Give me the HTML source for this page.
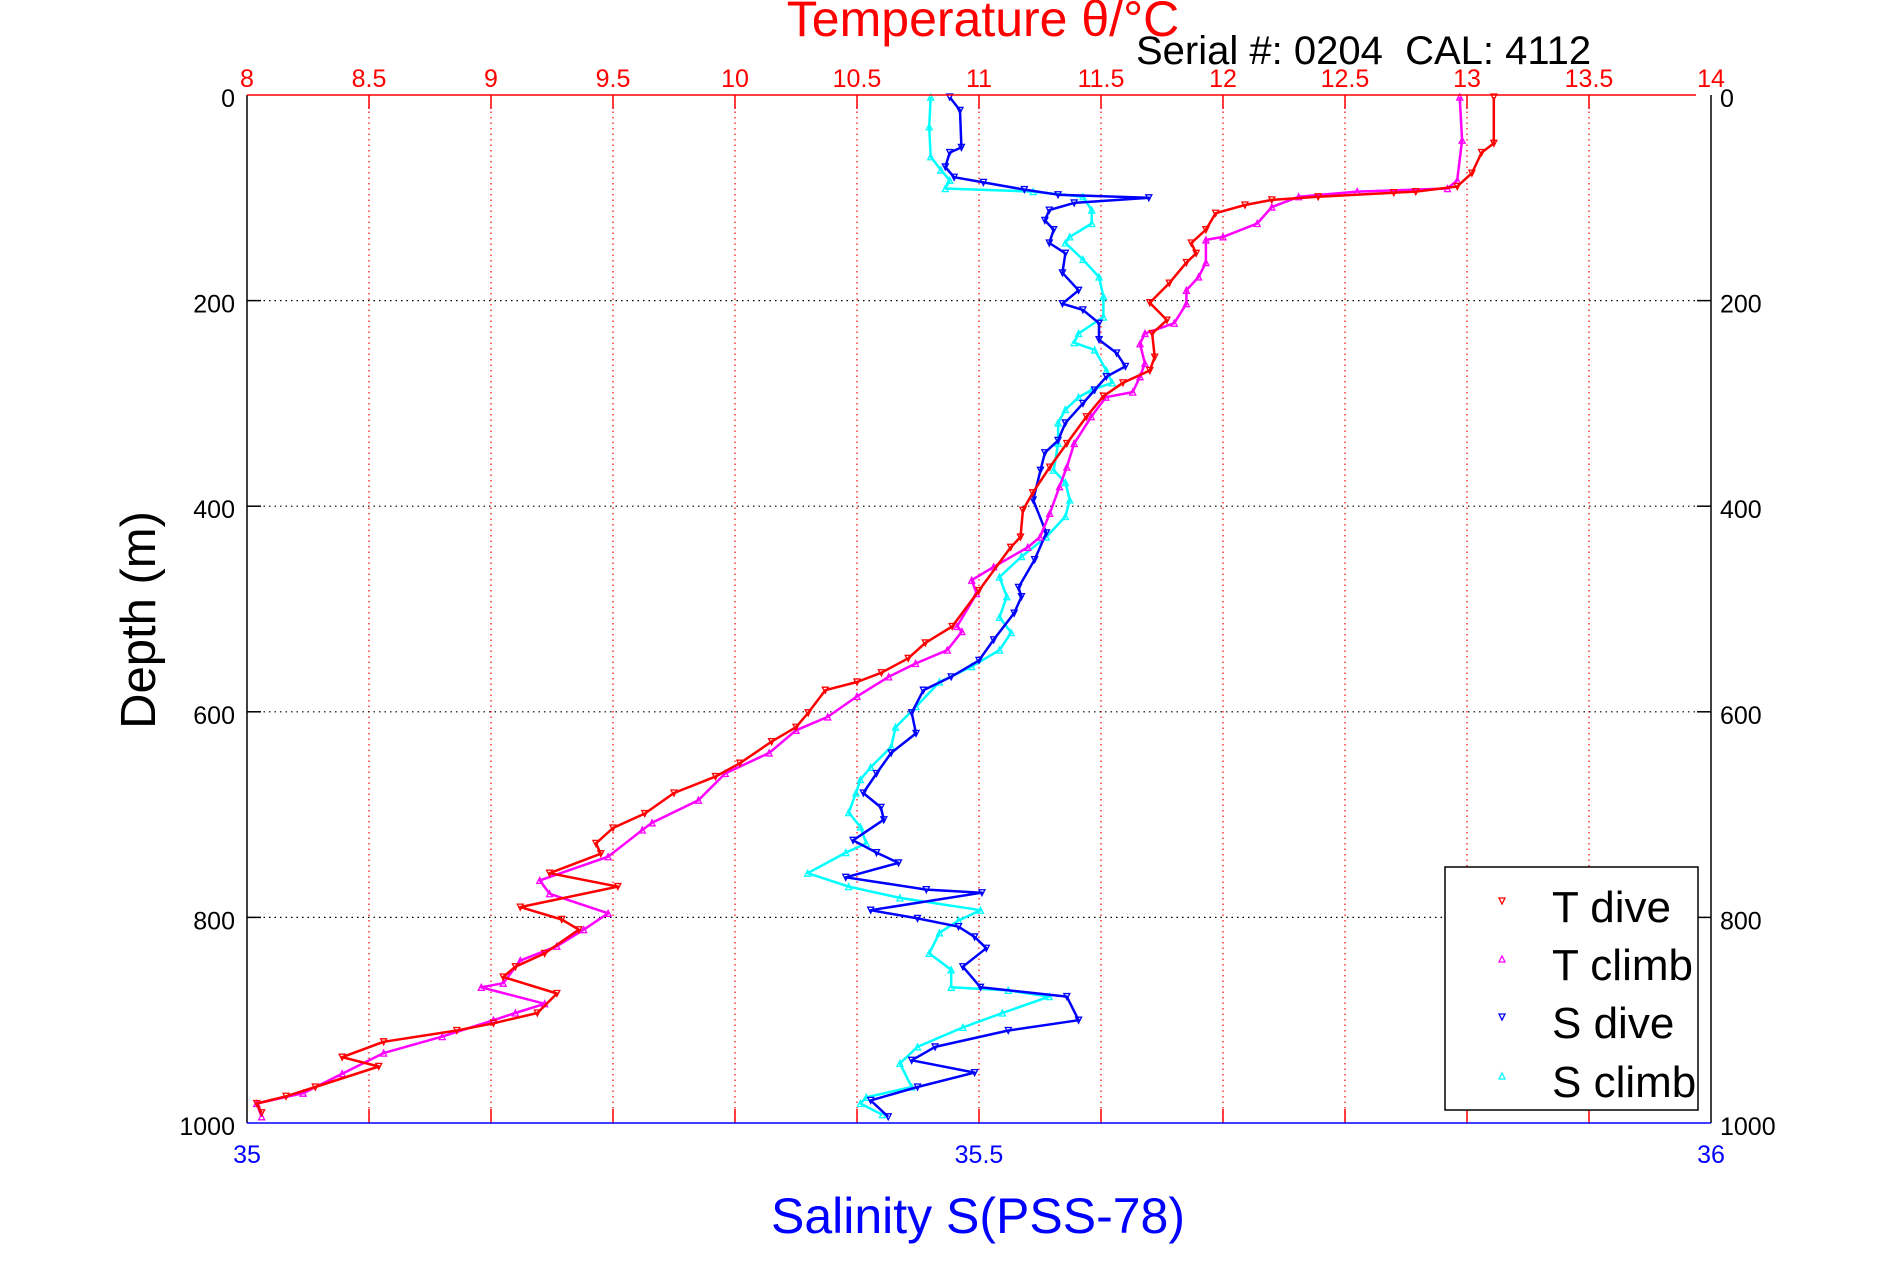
<!DOCTYPE html>
<html><head><meta charset="utf-8"><style>
html,body{margin:0;padding:0;background:#fff;}
svg{display:block;font-family:"Liberation Sans",sans-serif;}
</style></head><body>
<svg id="chart" width="1891" height="1262" viewBox="0 0 1891 1262" xmlns="http://www.w3.org/2000/svg">
<rect x="0" y="0" width="1891" height="1262" fill="#fff"/>
<g id="grid"></g>
<g id="series"></g>
<g id="axes"></g>
<text x="983" y="36" font-size="50" fill="#ff0000" text-anchor="middle">Temperature θ/°C</text>
<text x="1136" y="64" font-size="40" fill="#000" xml:space="preserve" style="white-space:pre">Serial #: 0204  CAL: 4112</text>
<text x="978" y="1233" font-size="50" fill="#0000ff" text-anchor="middle">Salinity S(PSS-78)</text>
<text x="0" y="0" font-size="49" fill="#000" text-anchor="middle" transform="translate(155,620) rotate(-90)">Depth (m)</text>
<g>
<rect x="1445" y="867" width="253" height="243" fill="#fff" stroke="#000" stroke-width="1.5"/>
<polygon points="1499,898 1505,898 1502,904" fill="none" stroke="#ff0000" stroke-width="1.3"/>
<text x="1552" y="922" font-size="44">T dive</text>
<polygon points="1499,962 1505,962 1502,956" fill="none" stroke="#ff00ff" stroke-width="1.3"/>
<text x="1552" y="980" font-size="44">T climb</text>
<polygon points="1499,1014 1505,1014 1502,1020" fill="none" stroke="#0000ff" stroke-width="1.3"/>
<text x="1552" y="1038" font-size="44">S dive</text>
<polygon points="1499,1079 1505,1079 1502,1073" fill="none" stroke="#00ffff" stroke-width="1.3"/>
<text x="1552" y="1097" font-size="44">S climb</text>
</g>
</svg>
<script>
const tTicks=[8,8.5,9,9.5,10,10.5,11,11.5,12,12.5,13,13.5,14];
const tTickLabels=["8","8.5","9","9.5","10","10.5","11","11.5","12","12.5","13","13.5","14"];
const sTicks=[35,35.5,36];
const sTickLabels=["35","35.5","36"];
const depthTicks=[0,200,400,600,800,1000];
const depthTickLabels=["0","200","400","600","800","1000"];

const tDiveDepth=[2,47,56,76,89,94,95,99,102,107,115,131,144,154,163,183,202,219,232,255,268,280,293,313,339,362,387,404,430,440,482,517,533,548,562,571,579,601,615,629,650,663,679,699,713,728,738,757,770,790,802,812,835,848,858,874,893,903,910,921,936,945,965,974,981,990];
const tDiveTemp=[13.11,13.11,13.06,13.02,12.96,12.79,12.70,12.39,12.2,12.09,11.97,11.93,11.87,11.89,11.85,11.78,11.70,11.77,11.71,11.72,11.70,11.59,11.51,11.44,11.36,11.29,11.22,11.18,11.17,11.13,11.0,10.89,10.78,10.71,10.6,10.5,10.37,10.30,10.25,10.15,10.02,9.92,9.75,9.63,9.5,9.43,9.45,9.24,9.52,9.12,9.29,9.36,9.22,9.10,9.05,9.27,9.19,9.01,8.86,8.56,8.39,8.54,8.28,8.16,8.04,8.06];

const tClimbDepth=[2,44,83,91,94,99,109,125,138,141,163,177,190,203,222,232,242,261,274,289,294,313,339,362,381,407,430,440,459,472,485,517,522,540,553,566,585,605,618,640,660,686,708,715,741,764,777,796,812,828,842,864,868,884,893,900,916,932,952,971,981,994];
const tClimbTemp=[12.97,12.98,12.96,12.92,12.55,12.31,12.2,12.14,12.0,11.93,11.93,11.90,11.85,11.85,11.80,11.68,11.66,11.68,11.66,11.63,11.52,11.46,11.39,11.36,11.33,11.29,11.25,11.2,11.06,10.97,10.99,10.91,10.93,10.87,10.74,10.63,10.5,10.38,10.25,10.14,9.96,9.85,9.66,9.62,9.48,9.2,9.24,9.48,9.38,9.27,9.12,9.05,8.96,9.22,9.10,9.01,8.8,8.56,8.39,8.23,8.04,8.06];

const sDiveDepth=[2,15,51,56,70,80,85,92,97,100,105,112,122,131,144,154,173,190,203,209,222,238,251,264,274,287,300,319,336,348,365,394,426,452,479,488,504,530,550,566,579,601,621,640,660,679,693,705,725,737,747,761,773,776,793,801,809,819,830,848,868,877,900,910,926,939,951,965,978,994];
const sDiveSal=[35.480,35.487,35.488,35.480,35.477,35.483,35.503,35.531,35.554,35.616,35.565,35.548,35.545,35.551,35.548,35.559,35.557,35.568,35.557,35.571,35.582,35.582,35.594,35.600,35.587,35.579,35.571,35.559,35.554,35.545,35.542,35.537,35.546,35.538,35.527,35.529,35.524,35.510,35.500,35.481,35.462,35.454,35.457,35.440,35.430,35.421,35.433,35.435,35.414,35.430,35.445,35.409,35.464,35.502,35.426,35.458,35.486,35.497,35.505,35.489,35.501,35.560,35.568,35.520,35.470,35.454,35.497,35.458,35.426,35.438];

const sClimbDepth=[2,31,60,73,83,91,94,99,112,125,138,144,160,177,196,216,232,241,248,268,280,287,294,306,319,339,365,377,394,410,430,449,469,488,508,523,540,556,571,595,615,634,654,666,679,698,712,728,737,757,770,781,793,803,815,835,851,868,871,877,893,907,926,942,965,975,981,992];
const sClimbSal=[35.467,35.466,35.467,35.474,35.480,35.477,35.537,35.571,35.577,35.577,35.562,35.559,35.571,35.582,35.585,35.585,35.568,35.565,35.579,35.587,35.591,35.577,35.568,35.559,35.554,35.554,35.551,35.559,35.562,35.559,35.546,35.529,35.514,35.519,35.514,35.522,35.514,35.495,35.473,35.457,35.443,35.440,35.426,35.419,35.416,35.411,35.419,35.423,35.409,35.383,35.411,35.446,35.501,35.486,35.473,35.466,35.481,35.481,35.520,35.548,35.516,35.489,35.458,35.446,35.454,35.423,35.419,35.434];

const L=247,R=1711,T=95,B=1123;
const NS="http://www.w3.org/2000/svg";
function xT(v){return L+(v-8)/6*(R-L);}
function xS(v){return L+(v-35)*(R-L);}
function yD(v){return T+v/1000*(B-T);}
function mk(tag,attrs,parent){const e=document.createElementNS(NS,tag);for(const k in attrs)e.setAttribute(k,attrs[k]);parent.appendChild(e);return e;}

const grid=document.getElementById('grid');
const axes=document.getElementById('axes');
const series=document.getElementById('series');

tTicks.forEach((t,i)=>{
  const x=xT(t);
  if(i>0&&i<tTicks.length-1){
    const g=mk('line',{x1:x,y1:T,x2:x,y2:B,stroke:'#ff0000','stroke-width':1.2,'stroke-dasharray':'1.5 4'},grid);
    
    
    mk('line',{x1:x,y1:T,x2:x,y2:T+14,stroke:'#ff0000','stroke-width':1.5},axes);
    mk('line',{x1:x,y1:B,x2:x,y2:B-14,stroke:'#ff0000','stroke-width':1.5},axes);
  }
  const lb=mk('text',{x:x,y:87,'font-size':25,fill:'#ff0000','text-anchor':'middle'},axes);
  lb.textContent=tTickLabels[i];
  
  
});
depthTicks.forEach((d,i)=>{
  const y=yD(d);
  if(i>0&&i<depthTicks.length-1){
    const g=mk('line',{x1:L,y1:y,x2:R,y2:y,stroke:'#000','stroke-width':1.2,'stroke-dasharray':'1.5 4'},grid);
    
    
    mk('line',{x1:L,y1:y,x2:L+14,y2:y,stroke:'#000','stroke-width':1.5},axes);
    mk('line',{x1:R,y1:y,x2:R-14,y2:y,stroke:'#000','stroke-width':1.5},axes);
  }
  const a=mk('text',{x:235,y:y+12,'font-size':25,fill:'#000','text-anchor':'end'},axes);
  a.textContent=depthTickLabels[i];
  
  
  const b=mk('text',{x:1720,y:y+12,'font-size':25,fill:'#000'},axes);
  b.textContent=depthTickLabels[i];
  
  
});
sTicks.forEach((s,i)=>{
  const x=xS(s);
  const lb=mk('text',{x:x,y:1163,'font-size':25,fill:'#0000ff','text-anchor':'middle'},axes);
  lb.textContent=sTickLabels[i];
  
  
});
mk('line',{x1:L,y1:T,x2:L,y2:B,stroke:'#000','stroke-width':1.5},axes);
mk('line',{x1:R,y1:T,x2:R,y2:B,stroke:'#000','stroke-width':1.5},axes);
mk('line',{x1:L,y1:T,x2:R-15,y2:T,stroke:'#ff0000','stroke-width':1.5},axes);
mk('line',{x1:L,y1:B,x2:R,y2:B,stroke:'#0000ff','stroke-width':1.5},axes);

function drawSeries(depths,vals,xf,color,down,name){
  const g=mk('g',{},series);
  
  
  const pts=depths.map((d,i)=>xf(vals[i]).toFixed(1)+','+yD(d).toFixed(1)).join(' ');
  mk('polyline',{points:pts,fill:'none',stroke:color,'stroke-width':2.5,'stroke-linejoin':'round'},g);
  depths.forEach((d,i)=>{
    const x=xf(vals[i]),y=yD(d);
    const p=down?`${x-3},${y-3} ${x+3},${y-3} ${x},${y+3}`:`${x-3},${y+3} ${x+3},${y+3} ${x},${y-3}`;
    const m=mk('polygon',{points:p,fill:'none',stroke:color,'stroke-width':1.3},g);
    
    
  });
}
drawSeries(sClimbDepth,sClimbSal,xS,'#00ffff',false,'s-climb-series');
drawSeries(sDiveDepth,sDiveSal,xS,'#0000ff',true,'s-dive-series');
drawSeries(tClimbDepth,tClimbTemp,xT,'#ff00ff',false,'t-climb-series');
drawSeries(tDiveDepth,tDiveTemp,xT,'#ff0000',true,'t-dive-series');
</script>
</body></html>
